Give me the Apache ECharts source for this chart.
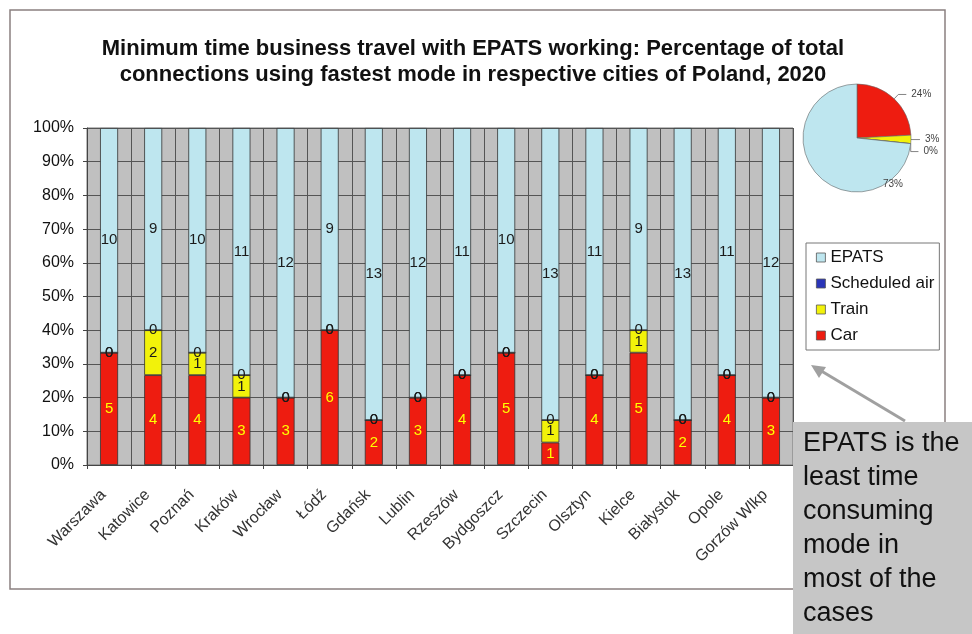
<!DOCTYPE html>
<html><head><meta charset="utf-8">
<script src="https://cdn.jsdelivr.net/npm/echarts@6/dist/echarts.min.js"></script>
<style>html,body{margin:0;padding:0;background:#fff;}#c{width:972px;height:634px;}</style>
</head><body><div id="c"></div>
<script>
var cities = ['Warszawa','Katowice','Poznań','Kraków','Wrocław','Łódź','Gdańsk','Lublin','Rzeszów','Bydgoszcz','Szczecin','Olsztyn','Kielce','Białystok','Opole','Gorzów Wlkp'];
var car       = [5,4,4,3,3,6,2,3,4,5,1,4,5,2,4,3];
var train     = [0,2,1,1,0,0,0,0,0,0,1,0,1,0,0,0];
var air       = [0,0,0,0,0,0,0,0,0,0,0,0,0,0,0,0];
var epats     = [10,9,10,11,12,9,13,12,11,10,13,11,9,13,11,12];
var yTicks = ['0%','10%','20%','30%','40%','50%','60%','70%','80%','90%','100%'];
var seriesNames = ['Car','Train','Scheduled air','EPATS'];
var colors = {'Car':'#ee1c10','Train':'#f2f20a','Scheduled air':'#2a35b8','EPATS':'#bee6ef'};
var titleText = 'Minimum time business travel with EPATS working: Percentage of total\nconnections using fastest mode in respective cities of Poland, 2020';
var calloutText = 'EPATS is the\nleast time\nconsuming\nmode in\nmost of the\ncases';

var FONT = 'Liberation Sans, Arial, sans-serif';
var raw = {'Car':car,'Train':train,'Scheduled air':air,'EPATS':epats};
var totals = cities.map(function(_,i){return car[i]+train[i]+air[i]+epats[i];});
function pctData(arr){return arr.map(function(v,i){return {value: v/totals[i]*100, raw: v};});}
function sum(a){return a.reduce(function(s,v){return s+v;},0);}

var barSeries = seriesNames.map(function(n){
  return {
    name:n, type:'bar', stack:'all', barWidth:18,
    data:pctData(raw[n]),
    itemStyle:{color:colors[n], borderColor:'#333', borderWidth:0.8},
    label:{show:true, position:'inside', fontFamily:FONT, fontSize:15,
      color: n==='Car' ? '#ffff00' : '#1a1a1a',
      formatter:function(p){return p.data.raw;}},
    emphasis:{disabled:true}
  };
});

var pieSeries = {
  type:'pie', center:[857,138], radius:54, startAngle:90, clockwise:true,
  data: seriesNames.map(function(n){
    var d = {name:n, value:sum(raw[n]), itemStyle:{color:colors[n]}};
    if(n==='EPATS'){ d.labelLine = {show:false}; }
    return d;
  }),
  itemStyle:{borderColor:'#666', borderWidth:0.6},
  label:{show:true, fontFamily:FONT, fontSize:10, color:'#444',
    formatter:function(p){return Math.round(p.percent)+'%';}},
  labelLine:{show:true, length:6, length2:8, lineStyle:{color:'#666', width:0.8}},
  labelLayout:function(p){
    if(p.dataIndex===3){ return {x:893, y:184, align:'center', verticalAlign:'middle'}; }
    return {};
  },
  emphasis:{disabled:true}, silent:true
};

var chart = echarts.init(document.getElementById('c'), null, {renderer:'canvas'});
chart.setOption({
  animation:false,
  backgroundColor:'#fff',
  title:{text:titleText, left:468, textAlign:'center', top:31,
    textStyle:{fontFamily:FONT, fontSize:22, fontWeight:'bold', color:'#111', lineHeight:26}},
  legend:{data:['EPATS','Scheduled air','Train','Car'], orient:'vertical', left:806, top:243,
    itemWidth:9, itemHeight:9, itemGap:9, padding:[6,5,6,10],
    borderColor:'#777', borderWidth:1, backgroundColor:'#fff',
    icon:'rect', itemStyle:{borderColor:'#555', borderWidth:0.8},
    textStyle:{fontFamily:FONT, fontSize:17, color:'#111'}},
  grid:{left:87, right:179, top:128, bottom:169, show:true, backgroundColor:'#c0c0c0', borderColor:'#777', borderWidth:1},
  xAxis:{type:'category', data:cities,
    axisLine:{lineStyle:{color:'#444'}},
    axisTick:{show:true, length:4, lineStyle:{color:'#444'}},
    splitLine:{show:true, lineStyle:{color:'#555', width:1}},
    axisLabel:{rotate:45, interval:0, margin:33, verticalAlign:'bottom', fontFamily:FONT, fontSize:16, color:'#333'}},
  yAxis:{type:'value', min:0, max:100, interval:10,
    axisLine:{show:true, lineStyle:{color:'#444'}},
    axisTick:{show:true, length:4, lineStyle:{color:'#444'}},
    splitLine:{show:true, lineStyle:{color:'#555', width:1}},
    axisLabel:{fontFamily:FONT, fontSize:16, color:'#111', margin:13,
      formatter:function(v){return yTicks[Math.round(v/10)];}}},
  series: barSeries.concat([pieSeries]),
  graphic:[
    {type:'rect', z:-1, shape:{x:10, y:10, width:935, height:579}, style:{fill:'none', stroke:'#8a8080', lineWidth:1.5}},
    {type:'line', z:50, shape:{x1:905, y1:421, x2:818, y2:369}, style:{stroke:'#a0a0a0', lineWidth:3}},
    {type:'polygon', z:50, shape:{points:[[811,365],[826,367],[819,378]]}, style:{fill:'#a0a0a0'}},
    {type:'rect', z:60, shape:{x:793, y:422, width:179, height:212}, style:{fill:'#c6c6c6'}},
    {type:'text', z:61, left:803, top:427, style:{text:calloutText, fontFamily:FONT, fontSize:27, lineHeight:34, fill:'#111'}}
  ]
});
</script></body></html>
